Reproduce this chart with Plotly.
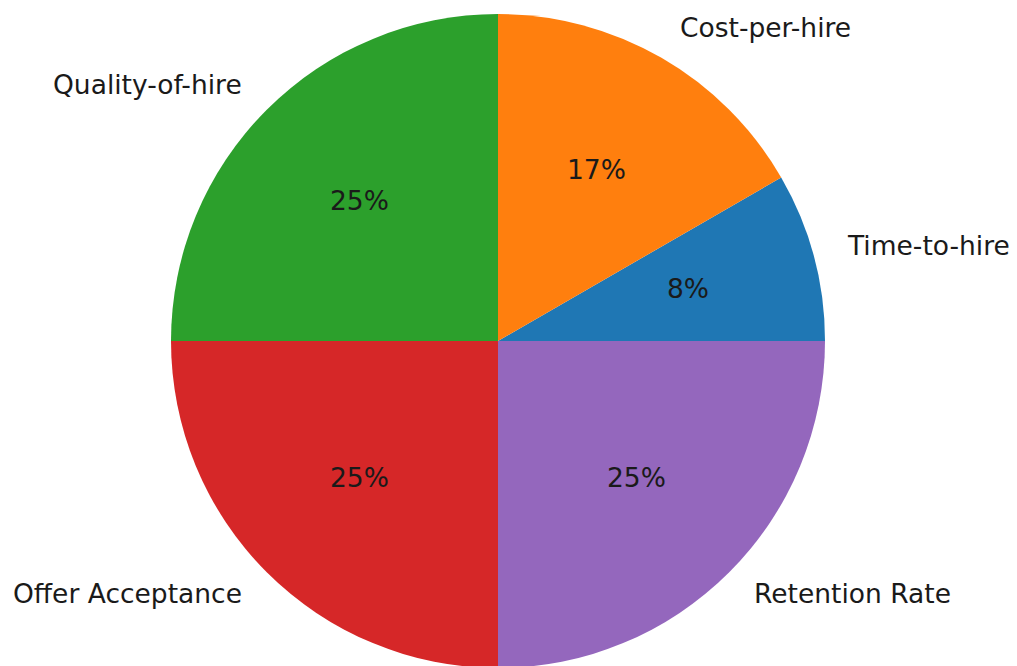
import math
import plotly.graph_objects as go

labels = ["Time-to-hire", "Cost-per-hire", "Quality-of-hire", "Offer Acceptance", "Retention Rate"]
values = [1, 2, 3, 3, 3]
colors = ["#1f77b4", "#ff7f0e", "#2ca02c", "#d62728", "#9467bd"]

W, H = 1017, 666
# page has an 8px body margin; place pie so it lands at (498, 341) on the page
cx, cy, r = 490, 333, 327

total = sum(values)
fig = go.Figure(go.Pie(
    labels=labels, values=values, sort=False,
    direction="counterclockwise", rotation=90 - 360 * values[0] / total,
    marker=dict(colors=colors, line=dict(width=0)),
    textinfo="none", hoverinfo="label+percent",
    domain=dict(x=[(cx - r) / W, (cx + r) / W], y=[1 - (cy + r) / H, 1 - (cy - r) / H]),
    showlegend=False,
))

start = 0.0
font = dict(family="DejaVu Sans", size=26.5, color="#1a1a1a")
for lab, v in zip(labels, values):
    theta = math.radians(360 * (start + v / 2) / total)
    start += v
    c, s = math.cos(theta), math.sin(theta)
    lx, ly = cx + 1.1 * r * c, cy - 1.1 * r * s
    fig.add_annotation(x=lx / W, y=1 - ly / H, xref="paper", yref="paper",
                       text=lab, showarrow=False, font=font, yshift=2,
                       xanchor="left" if c > 0 else "right", yanchor="middle")
    px, py = cx + 0.6 * r * c, cy - 0.6 * r * s
    fig.add_annotation(x=px / W, y=1 - py / H, xref="paper", yref="paper",
                       text=f"{100 * v / total:.0f}%", showarrow=False, font=font, yshift=2,
                       xanchor="center", yanchor="middle")

fig.update_layout(width=W, height=H, margin=dict(l=0, r=0, t=0, b=0),
                  paper_bgcolor="white", plot_bgcolor="white")
fig.write_html("out.html")
